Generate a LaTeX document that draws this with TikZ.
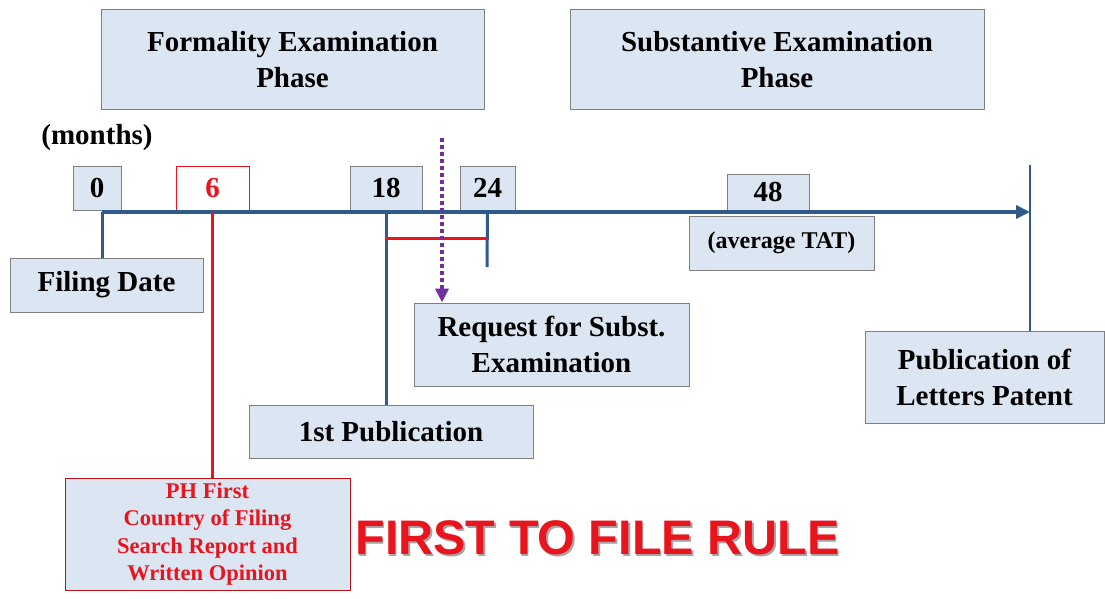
\documentclass[tikz,border=0pt]{standalone}
\usepackage{fontspec}
\setmainfont{Liberation Serif}
\newfontfamily\rulefont{Liberation Sans}
\usetikzlibrary{arrows.meta}
\definecolor{boxfill}{HTML}{DCE6F2}
\definecolor{boxline}{HTML}{7F7F7F}
\definecolor{axisblue}{HTML}{2F5A8C}
\definecolor{markred}{HTML}{E8141E}
\definecolor{reqpurple}{HTML}{7030A0}

\tikzset{
  phasebox/.style={draw=boxline, fill=boxfill, line width=1pt, inner sep=0pt, align=center,
    font=\fontsize{29}{36}\selectfont\bfseries},
  smallbox/.style={phasebox, font=\fontsize{24}{29.5}\selectfont\bfseries},
  redbox/.style={phasebox, font=\fontsize{22.5}{27.5}\selectfont\bfseries, draw=markred!80!black, text=markred},
  bluelink/.style={line width=3pt, color=axisblue},
  redlink/.style={line width=2.5pt, color=markred},
}

\begin{document}
\begin{tikzpicture}[x=1pt,y=-1pt]
	\useasboundingbox[fill=white] (0,0) rectangle (1105,599);

	% phases

	\node[phasebox, minimum width=383, minimum height=100] (formal) at (292.5,60) {Formality Examination\\Phase};
	\node[phasebox, minimum width=414, minimum height=100] (subst) at (777,60) {Substantive Examination\\Phase};

	% months on the line

	\node[font=\fontsize{29}{36}\selectfont\bfseries, inner sep=0pt] (months) at (97,138) {(months)};
	\node[phasebox, minimum width=48, minimum height=44] (zero) at (97,188) {0};
	\node[phasebox, fill=white, draw=markred, text=markred, minimum width=73, minimum height=44] (six) at (212.5,188) {6};
	\node[phasebox, minimum width=72, minimum height=44] (eighteen) at (386,188) {18};
	\node[phasebox, minimum width=55, minimum height=44] (twentyfour) at (487.5,188) {24};
	\node[phasebox, minimum width=82, minimum height=36] (fortyeight) at (768,192) {48};
	\node[smallbox, minimum width=185, minimum height=54] (tat) at (781.5,243) {(average TAT)};

	% events

	\node[phasebox, minimum width=193, minimum height=54] (filing) at (106.5,285) {Filing Date};
	\node[phasebox, minimum width=275, minimum height=83] (request) at (551.5,344.5) {Request for Subst.\\Examination};
	\node[phasebox, minimum width=284, minimum height=53] (firstpub) at (391,431.5) {1st Publication};
	\node[phasebox, minimum width=239, minimum height=92] (letters) at (984.5,377) {Publication of\\Letters Patent};
	\node[redbox, minimum width=285, minimum height=112] (search) at (207.5,534) {PH First\\Country of Filing\\Search Report and\\Written Opinion};

	% time line

	\coordinate (start) at (102,212);
	\coordinate (stop) at (1030,212);
	\coordinate (span) at (0,238);
	\coordinate (end24) at (487,267);
	\coordinate (reqtop) at (442,138);
	\coordinate (lptop) at (1030,165);

	\draw[line width=3.5pt, color=axisblue, -{Triangle[length=14pt,width=13pt]}] (start) -- (stop);
	\draw[bluelink] (start) -- (start |- filing.north);
	\draw[redlink] (six.south) -- (six.south |- search.north);
	\draw[bluelink] (eighteen.south) -- (eighteen.south |- firstpub.north);
	\draw[bluelink] (twentyfour.south) -- (end24);
	\draw[redlink, line width=3pt] (eighteen.south |- span) -- (end24 |- span);
	\draw[line width=1.3pt, color=axisblue] (lptop) -- (lptop |- letters.north);
	\draw[line width=3.5pt, color=reqpurple, dash pattern=on 4pt off 3pt, -{Triangle[length=14pt,width=13pt]}] (reqtop) -- (reqtop |- request.north);

	% rule

	\node[font=\rulefont\bfseries\fontsize{48.5}{58}\selectfont, text=black!35, inner sep=0pt] (ruleshadow) at (599,540) {FIRST TO FILE RULE};
	\node[font=\rulefont\bfseries\fontsize{48.5}{58}\selectfont, text=markred, inner sep=0pt] (rule) at (597.5,538) {FIRST TO FILE RULE};
\end{tikzpicture}
\end{document}
